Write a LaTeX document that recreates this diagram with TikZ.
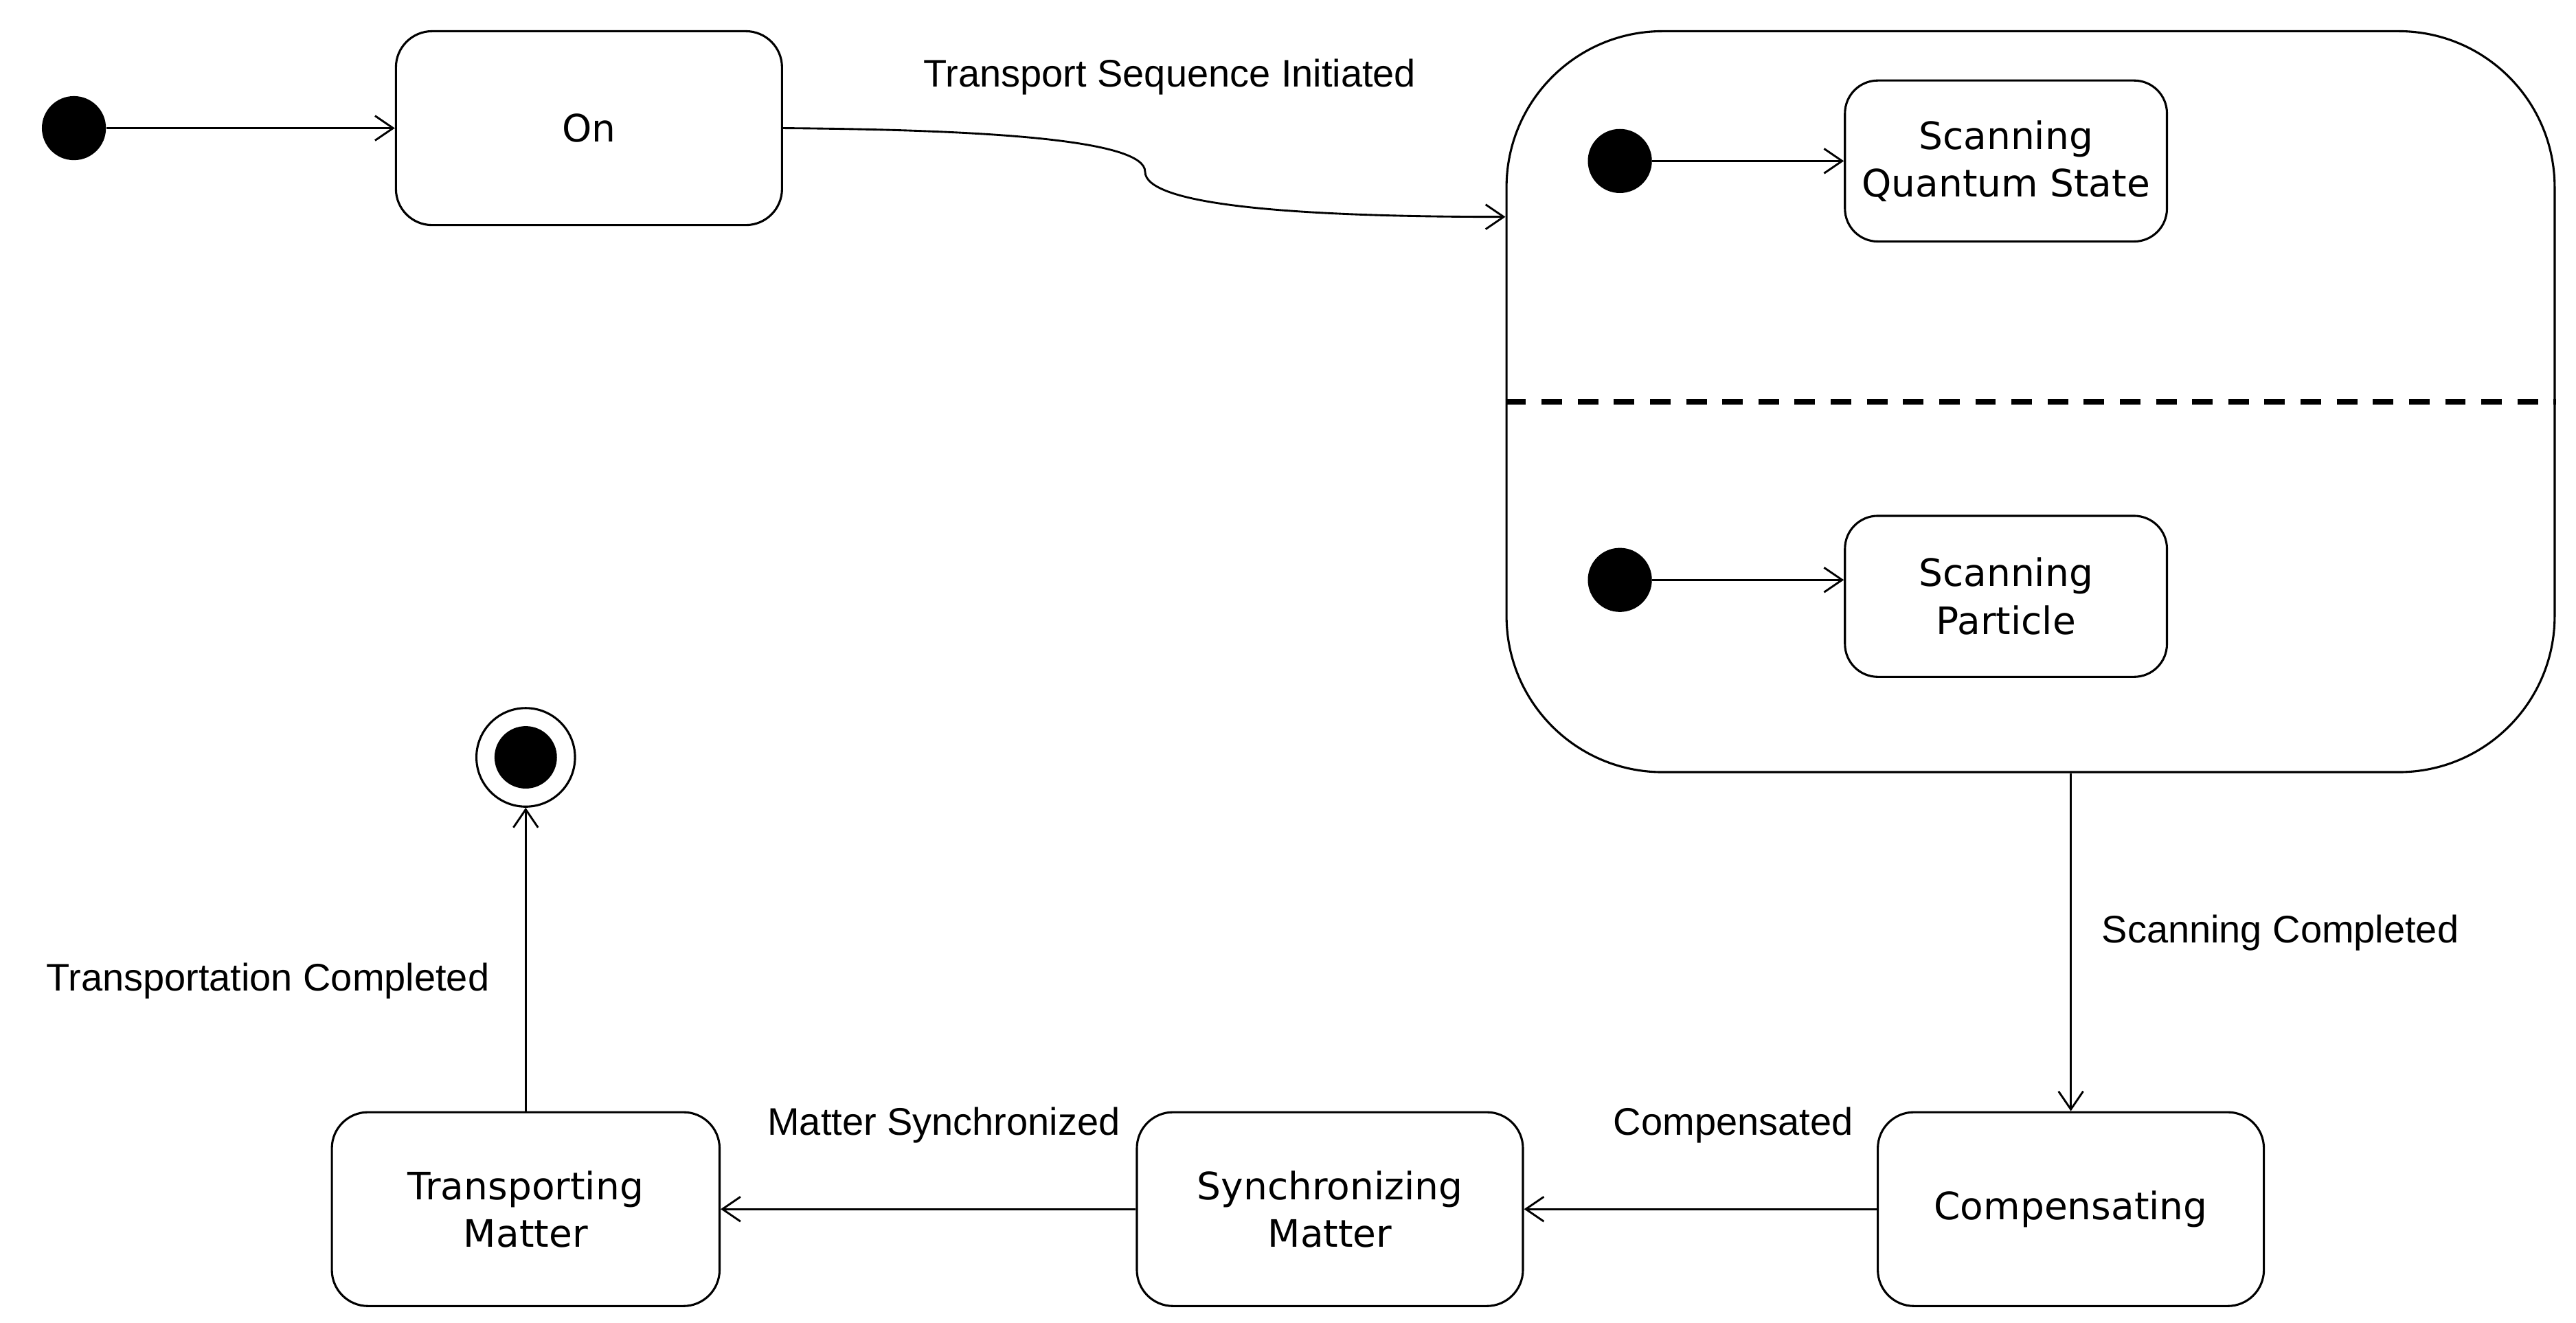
\documentclass[tikz,border=0pt]{standalone}
\usepackage{fontspec}
\newfontfamily\statefont{DejaVu Sans}
\newfontfamily\labelfont{Liberation Sans}
\usetikzlibrary{arrows.meta,calc}
\begin{document}
\begin{tikzpicture}[x=1pt,y=-1pt,
  statebox/.style={draw=black,line width=1.3pt,rounded corners=22pt,inner sep=0pt,
    minimum width=235pt,minimum height=118pt,align=center,
    font=\statefont\fontsize{23}{29}\selectfont},
  smallbox/.style={statebox,minimum width=196pt,minimum height=98pt,rounded corners=20pt},
  initdot/.style={circle,fill=black,inner sep=0pt,minimum size=39pt},
  lbl/.style={inner sep=0pt,font=\labelfont\fontsize{23.4}{28}\selectfont},
  conn/.style={line width=1.2pt,-{Straight Barb[length=11pt,width=15pt]}}
]
\useasboundingbox (0,0) rectangle (1568,805);

% composite state
\node[draw=black,line width=1.3pt,rounded corners=95pt,minimum width=638pt,minimum height=451pt,inner sep=0pt] (composite) at (1236,244.5) {};
\draw[line width=3.2pt,dash pattern=on 12.5pt off 9.5pt] (composite.west) -- (composite.east);

% states
\node[initdot] (i0) at (45,78) {};
\node[statebox] (on) at (358.5,78) {On};
\node[initdot] (i1) at (986,98) {};
\node[smallbox] (sqs) at (1221,98) {Scanning\\Quantum State};
\node[initdot] (i2) at (986,353) {};
\node[smallbox] (sp) at (1221,363) {Scanning\\Particle};
\node[statebox] (comp) at (1260.5,736) {Compensating};
\node[statebox] (sync) at (809.5,736) {Synchronizing\\Matter};
\node[statebox,minimum width=236pt] (trans) at (320,736) {Transporting\\Matter};
\node[circle,draw=black,line width=1.3pt,inner sep=0pt,minimum size=60pt] (final) at (320,461) {};
\node[circle,fill=black,inner sep=0pt,minimum size=38pt] (finalin) at (final.center) {};

\coordinate (cin) at ($(composite.west)+(0,-112.5)$);
\coordinate (cout) at (comp.north |- composite.south);
\coordinate (spin) at (sp.west |- i2.east);

% connectors
\draw[conn] (i0) -- (on.west);
\draw[conn] (on.east) .. controls (600,79) and (697,85) .. (697,104.5)
  .. controls (697,124) and (780,132) .. (cin);
\draw[conn] (i1) -- (sqs.west);
\draw[conn] (i2) -- (spin);
\draw[conn] (cout) -- (comp.north);
\draw[conn] (comp.west) -- (sync.east);
\draw[conn] (sync.west) -- (trans.east);
\draw[conn] (trans.north) -- (final.south);

% labels
\node[lbl] (l1) at (712,47) {Transport Sequence Initiated};
\node[lbl] (l2) at (1388,568) {Scanning Completed};
\node[lbl] (l3) at (1055,685) {Compensated};
\node[lbl] (l4) at (574.5,685) {Matter Synchronized};
\node[lbl] (l5) at (163,597) {Transportation Completed};
\end{tikzpicture}
\end{document}
